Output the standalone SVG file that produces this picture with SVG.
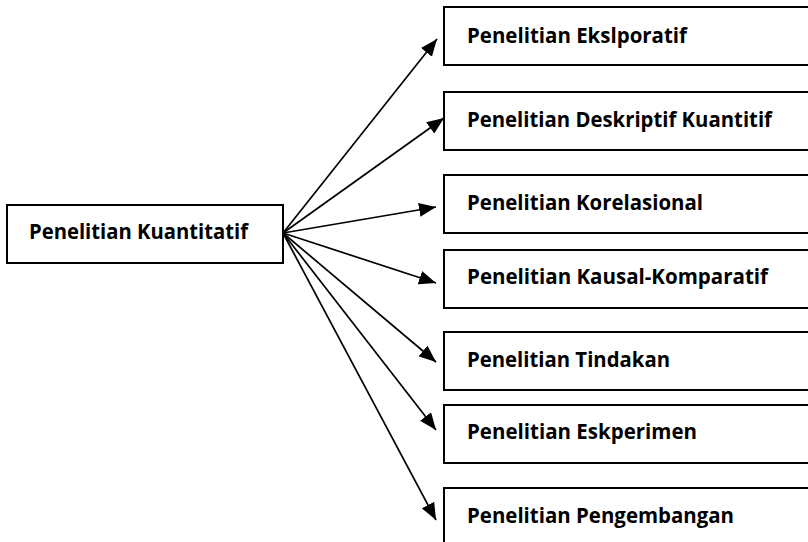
<svg xmlns="http://www.w3.org/2000/svg" width="808" height="542" viewBox="0 0 808 542">
<style>
.box{fill:#fff;stroke:#000;stroke-width:2}
.t{font-family:"Open Sans","Liberation Sans",sans-serif;font-weight:bold;font-size:21px;fill:#000}
.c{stroke:#000;stroke-width:1.7;fill:none;marker-end:url(#ah)}
</style>
<defs>
<marker id="ah" markerUnits="userSpaceOnUse" markerWidth="18" markerHeight="14" refX="17" refY="7" orient="auto">
<path d="M0,0 L17,7 L0,14 Z" fill="#000"/>
</marker>
</defs>
<rect width="808" height="542" fill="#fff"/>
<g id="n0"><rect class="box" x="7" y="205" width="276" height="58"/><text class="t" x="29" y="239" textLength="219" lengthAdjust="spacingAndGlyphs">Penelitian Kuantitatif</text></g>
<g id="n1"><rect class="box" x="444" y="7" width="380" height="58"/><text class="t" x="467" y="43" textLength="220" lengthAdjust="spacingAndGlyphs">Penelitian Ekslporatif</text></g>
<g id="n2"><rect class="box" x="444" y="92" width="380" height="58"/><text class="t" x="467" y="127" textLength="305" lengthAdjust="spacingAndGlyphs">Penelitian Deskriptif Kuantitif</text></g>
<g id="n3"><rect class="box" x="444" y="175" width="380" height="58"/><text class="t" x="467" y="210" textLength="236" lengthAdjust="spacingAndGlyphs">Penelitian Korelasional</text></g>
<g id="n4"><rect class="box" x="444" y="250" width="380" height="58"/><text class="t" x="467" y="284" textLength="301" lengthAdjust="spacingAndGlyphs">Penelitian Kausal-Komparatif</text></g>
<g id="n5"><rect class="box" x="444" y="332" width="380" height="58"/><text class="t" x="467" y="367" textLength="203" lengthAdjust="spacingAndGlyphs">Penelitian Tindakan</text></g>
<g id="n6"><rect class="box" x="444" y="405" width="380" height="58"/><text class="t" x="467" y="439" textLength="230" lengthAdjust="spacingAndGlyphs">Penelitian Eskperimen</text></g>
<g id="n7"><rect class="box" x="444" y="488" width="380" height="70"/><text class="t" x="467" y="523" textLength="267" lengthAdjust="spacingAndGlyphs">Penelitian Pengembangan</text></g>
<g id="connectors">
<line class="c" x1="283" y1="233" x2="437" y2="39"/>
<line class="c" x1="283" y1="233" x2="444" y2="118"/>
<line class="c" x1="283" y1="233" x2="436" y2="207"/>
<line class="c" x1="283" y1="233" x2="436" y2="283"/>
<line class="c" x1="283" y1="233" x2="436" y2="362"/>
<line class="c" x1="283" y1="233" x2="436" y2="430"/>
<line class="c" x1="283" y1="233" x2="436" y2="520"/>
</g>
</svg>
